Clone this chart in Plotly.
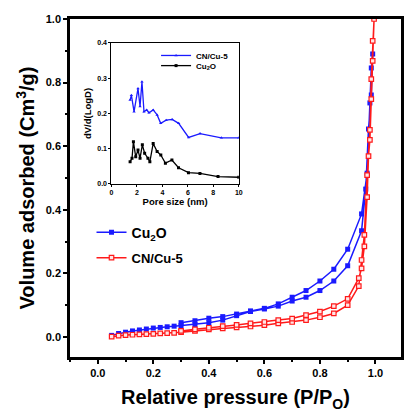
import plotly.graph_objects as go

# N2 adsorption / desorption isotherms
p_cu2o_ads = [0.05, 0.075, 0.1, 0.125, 0.15, 0.175, 0.2, 0.225, 0.25, 0.275, 0.3, 0.35, 0.4, 0.45,
              0.5, 0.55, 0.6, 0.65, 0.7, 0.75, 0.8, 0.85, 0.9, 0.95, 0.965, 0.975, 0.985, 0.99]
v_cu2o_ads = [0.005, 0.011, 0.015, 0.019, 0.022, 0.025, 0.028, 0.030, 0.032, 0.034, 0.036, 0.039, 0.045, 0.053,
              0.067, 0.080, 0.088, 0.097, 0.113, 0.125, 0.146, 0.176, 0.224, 0.334, 0.465, 0.654, 0.761, 0.89]
p_cu2o_des = [0.985, 0.98, 0.97, 0.95, 0.9, 0.85, 0.8, 0.75, 0.7, 0.65, 0.6, 0.55, 0.5, 0.45, 0.4, 0.35, 0.3]
v_cu2o_des = [0.846, 0.736, 0.515, 0.387, 0.276, 0.213, 0.176, 0.146, 0.125, 0.104, 0.090, 0.082, 0.072,
              0.064, 0.059, 0.051, 0.045]

p_cn_ads = [0.05, 0.075, 0.1, 0.125, 0.15, 0.175, 0.2, 0.225, 0.25, 0.275, 0.3, 0.35, 0.4, 0.45,
            0.5, 0.55, 0.6, 0.65, 0.7, 0.75, 0.8, 0.85, 0.9, 0.94, 0.95, 0.96, 0.97, 0.98, 0.985, 0.99, 0.995]
v_cn_ads = [0.001, 0.004, 0.006, 0.007, 0.008, 0.009, 0.010, 0.011, 0.012, 0.013, 0.015, 0.019, 0.024, 0.027,
            0.030, 0.033, 0.037, 0.043, 0.047, 0.053, 0.062, 0.074, 0.100, 0.160, 0.242, 0.321, 0.509, 0.651,
            0.811, 0.931, 1.0]
p_cn_des = [0.99, 0.985, 0.98, 0.975, 0.97, 0.96, 0.95, 0.94, 0.9, 0.85, 0.8, 0.75, 0.7, 0.65, 0.6, 0.55,
            0.5, 0.45, 0.4, 0.35, 0.3]
v_cn_des = [0.868, 0.748, 0.620, 0.569, 0.440, 0.285, 0.216, 0.185, 0.120, 0.097, 0.080, 0.069, 0.058, 0.053,
            0.047, 0.043, 0.038, 0.034, 0.029, 0.024, 0.019]

# BJH pore size distribution (inset)
d_cn = [1.47, 1.57, 1.78, 2.09, 2.25, 2.40, 2.56, 2.77, 2.95, 3.28, 3.59, 3.87, 4.30, 4.77, 5.28, 6.06,
        6.96, 8.63, 10.0]
dv_cn = [0.238, 0.252, 0.205, 0.271, 0.22, 0.290, 0.205, 0.210, 0.202, 0.210, 0.196, 0.172, 0.181, 0.183,
         0.172, 0.132, 0.143, 0.131, 0.131]
d_cu2o = [1.47, 1.62, 1.73, 1.91, 2.09, 2.25, 2.43, 2.61, 2.87, 3.02, 3.28, 3.59, 3.88, 4.24, 4.75, 5.27,
          6.05, 6.95, 8.37, 10.0]
dv_cu2o = [0.063, 0.073, 0.120, 0.077, 0.096, 0.073, 0.111, 0.087, 0.073, 0.063, 0.115, 0.092, 0.082,
           0.059, 0.068, 0.046, 0.032, 0.030, 0.021, 0.019]

BLUE = "#1a1aff"
RED = "#ff1a1a"
FONT = "Liberation Sans"

fig = go.Figure()

fig.add_trace(go.Scatter(
    x=p_cu2o_ads + p_cu2o_des, y=v_cu2o_ads + v_cu2o_des,
    mode="lines+markers", name="Cu<sub>2</sub>O", legend="legend", showlegend=True,
    line=dict(color=BLUE, width=1.5),
    marker=dict(symbol="square", size=5, color=BLUE, line=dict(width=0)),
))
fig.add_trace(go.Scatter(
    x=p_cn_ads + p_cn_des, y=v_cn_ads + v_cn_des,
    mode="lines+markers", name="CN/Cu-5", legend="legend2", showlegend=True,
    line=dict(color=RED, width=1.5),
    marker=dict(symbol="square", size=4.5, color="#ffe6e6", line=dict(width=1.2, color=RED)),
))

fig.add_trace(go.Scatter(
    x=d_cn, y=dv_cn, xaxis="x2", yaxis="y2",
    mode="lines+markers", name="CN/Cu-5", legend="legend3", showlegend=True,
    line=dict(color=BLUE, width=1.3),
    marker=dict(symbol="triangle-up", size=3, color=BLUE),
))
fig.add_trace(go.Scatter(
    x=d_cu2o, y=dv_cu2o, xaxis="x2", yaxis="y2",
    mode="lines+markers", name="Cu<sub>2</sub>O", legend="legend4", showlegend=True,
    line=dict(color="black", width=1.3),
    marker=dict(symbol="square", size=3, color="black"),
))

main_tick_font = dict(family=FONT, size=11, color="black", weight="bold")
title_font = dict(family=FONT, size=20, color="black", weight="bold")
inset_tick_font = dict(family=FONT, size=7, color="black", weight="bold")
inset_title_font = dict(family=FONT, size=9.5, color="black", weight="bold")

fig.update_layout(
    width=406, height=416,
    margin=dict(l=70, r=1, t=19, b=59),
    paper_bgcolor="white", plot_bgcolor="white",
    showlegend=True,
    font=dict(family=FONT, color="black"),
    xaxis=dict(
        range=[-0.1, 1.092], tickvals=[0, 0.2, 0.4, 0.6, 0.8, 1.0], ticktext=["0.0", "0.2", "0.4", "0.6", "0.8", "1.0"],
        ticks="outside", ticklen=4, tickwidth=2, tickcolor="black",
        minor=dict(dtick=0.1, tick0=0, ticks="outside", ticklen=2.5, tickwidth=1.5, tickcolor="black"),
        showline=True, linewidth=2.5, linecolor="black", mirror=True,
        showgrid=False, zeroline=False, tickfont=main_tick_font,
        title=dict(text="Relative pressure (P/P<sub>O</sub>)", font=title_font, standoff=13),
    ),
    yaxis=dict(
        range=[-0.063, 1.0], tickvals=[0, 0.2, 0.4, 0.6, 0.8, 1.0], ticktext=["0.0", "0.2", "0.4", "0.6", "0.8", "1.0"],
        ticks="outside", ticklen=4, tickwidth=2, tickcolor="black",
        minor=dict(dtick=0.1, tick0=0, ticks="outside", ticklen=2.5, tickwidth=1.5, tickcolor="black"),
        showline=True, linewidth=2.5, linecolor="black", mirror=True,
        showgrid=False, zeroline=False, tickfont=main_tick_font,
        title=dict(text="Volume adsorbed (Cm<sup>3</sup>/g)", font=title_font, standoff=6),
    ),
    xaxis2=dict(
        domain=[0.125, 0.51], anchor="y2", range=[0, 10], dtick=2,
        ticks="outside", ticklen=2, tickwidth=1, tickcolor="black",
        showline=True, linewidth=1, linecolor="black", mirror=True,
        showgrid=False, zeroline=False, tickfont=inset_tick_font,
        title=dict(text="Pore size (nm)", font=inset_title_font, standoff=2),
    ),
    yaxis2=dict(
        domain=[0.512, 0.929], anchor="x2", range=[0, 0.4], tickvals=[0, 0.1, 0.2, 0.3, 0.4],
        ticktext=["0.0", "0.1", "0.2", "0.3", "0.4"],
        ticks="outside", ticklen=2, tickwidth=1, tickcolor="black",
        showline=True, linewidth=1, linecolor="black", mirror=True,
        showgrid=False, zeroline=False, tickfont=inset_tick_font,
        title=dict(text="dV/d(LogD)", font=inset_title_font, standoff=3),
    ),
    legend=dict(x=0.065, y=0.415, xanchor="left", yanchor="top", bgcolor="rgba(0,0,0,0)",
                itemwidth=30, font=dict(family=FONT, size=14, color="black", weight="bold")),
    legend2=dict(x=0.065, y=0.338, xanchor="left", yanchor="top", bgcolor="rgba(0,0,0,0)",
                 itemwidth=30, font=dict(family=FONT, size=13, color="black", weight="bold")),
    legend3=dict(x=0.26, y=0.935, xanchor="left", yanchor="top", bgcolor="rgba(0,0,0,0)",
                 itemwidth=30, font=dict(family=FONT, size=8, color="black", weight="bold")),
    legend4=dict(x=0.26, y=0.905, xanchor="left", yanchor="top", bgcolor="rgba(0,0,0,0)",
                 itemwidth=30, font=dict(family=FONT, size=8, color="black", weight="bold")),
)

fig.write_html("out.html")
